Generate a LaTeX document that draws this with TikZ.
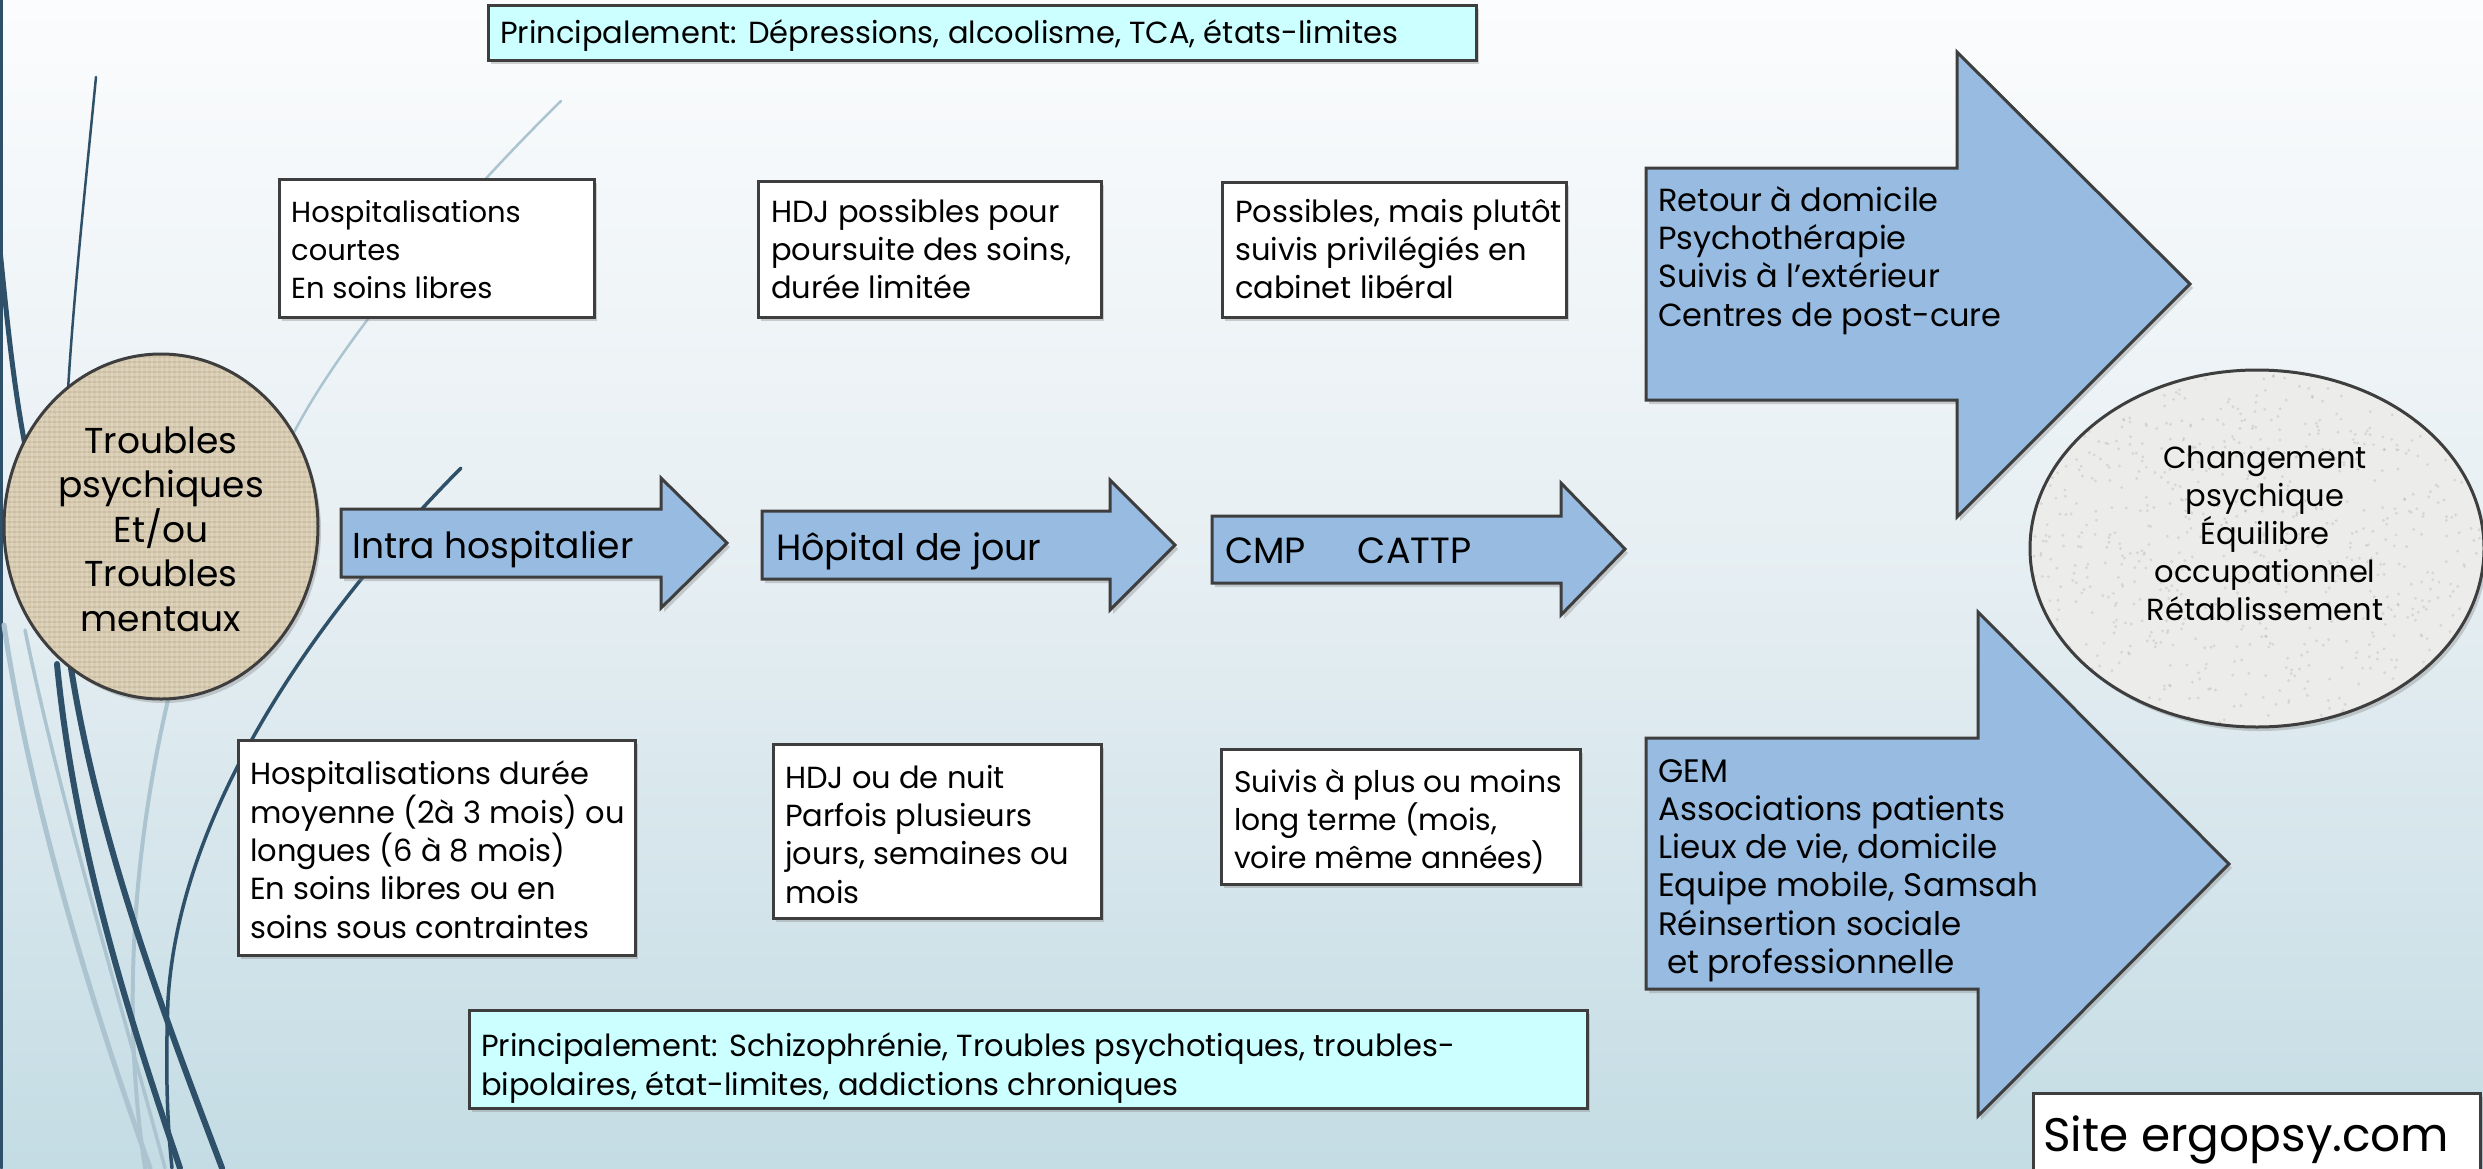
\documentclass[tikz,border=0pt]{standalone}
\usepackage{fontspec}
\setmainfont{Poppins}
\usetikzlibrary{shadows,shapes.geometric}
\definecolor{arrowfill}{RGB}{151,187,225}
\definecolor{cyanfill}{RGB}{204,255,255}
\definecolor{edgec}{RGB}{62,62,62}
\definecolor{navy}{RGB}{46,80,105}
\definecolor{lightline}{RGB}{172,196,208}
\definecolor{burlap}{RGB}{216,204,178}
\definecolor{granite}{RGB}{236,236,234}
\definecolor{bgtop}{RGB}{251,252,253}
\definecolor{bgmid}{RGB}{229,238,242}
\definecolor{bgbot}{RGB}{196,220,228}
\tikzset{
  shade/.style={drop shadow={shadow xshift=3pt, shadow yshift=-4pt, opacity=0.35}},
  panel/.style={draw=edgec, line width=3pt, shade, inner sep=0pt},
  wbox/.style={panel, fill=white, rectangle},
  cbox/.style={panel, fill=cyanfill, rectangle},
  flow/.style={draw=edgec, line width=3pt, fill=arrowfill, shade},
  txt/.style={anchor=base west, align=left, inner sep=0pt, font=\fontsize{30.5}{38.3}\selectfont},
  bigtxt/.style={anchor=base west, inner sep=0pt, font=\fontsize{36.5}{42}\selectfont},
  ctxt/.style={anchor=base, align=center, inner sep=0pt},
  swoosh/.style={navy, line cap=round},
  lswoosh/.style={lightline, line cap=round}
}
\begin{document}
\begin{tikzpicture}[x=1pt,y=-1pt]
\useasboundingbox (0,0) rectangle (2483,1168);
\fill[top color=bgtop, bottom color=bgbot, middle color=bgmid] (0,0) rectangle (2483,1168);

% decorative swooshes
\draw[swoosh, line width=3pt] (1.5,0) -- (1.5,1168);
\draw[lswoosh, line width=5pt] (4,625) .. controls (30,800) and (90,1000) .. (150,1168);
\draw[lswoosh, line width=3.5pt] (25,630) .. controls (60,800) and (120,1000) .. (165,1168);
\draw[lswoosh, line width=4pt] (168,700) .. controls (140,820) and (118,990) .. (145,1168);
\draw[lswoosh, line width=2.5pt] (561,101) .. controls (460,200) and (340,340) .. (290,440);
\draw[swoosh, line width=5pt] (0,250) .. controls (8,330) and (15,400) .. (30,470);
\draw[swoosh, line width=2.5pt] (96,77) .. controls (84,200) and (70,330) .. (66,430);
\draw[swoosh, line width=6pt] (57,664) .. controls (75,850) and (130,1020) .. (180,1168);
\draw[swoosh, line width=6pt] (71,668) .. controls (100,850) and (170,1030) .. (222,1168);
\draw[swoosh, line width=3.5pt] (461,468) .. controls (330,600) and (180,800) .. (168,1000) .. controls (165,1080) and (168,1130) .. (172,1168);

% top and bottom cyan boxes
\node[cbox, minimum width=988pt, minimum height=55pt] (topc) at (982,32.5) {};
\node[txt] (topct) at (500,43) {Principalement: Dépressions, alcoolisme, TCA, états-limites};
\node[cbox, minimum width=1118pt, minimum height=98pt] (botc) at (1028,1059) {};
\node[txt] (botct) at (481,1095) {Principalement: Schizophrénie, Troubles psychotiques, troubles-\\bipolaires, état-limites, addictions chroniques};

% upper white boxes (base anchor = last line)
\node[wbox, minimum width=315pt, minimum height=138pt] (b1) at (436.5,248) {};
\node[txt, font=\fontsize{29}{38.3}\selectfont] (b1t) at (291,298.6) {Hospitalisations\\courtes\\En soins libres};
\node[wbox, minimum width=343pt, minimum height=136pt] (b2) at (929.5,249) {};
\node[txt] (b2t) at (771,298.6) {HDJ possibles pour\\poursuite des soins,\\durée limitée};
\node[wbox, minimum width=344pt, minimum height=135pt] (b3) at (1394,249.5) {};
\node[txt] (b3t) at (1235,298.6) {Possibles, mais plutôt\\suivis privilégiés en\\cabinet libéral};

% lower white boxes
\node[wbox, minimum width=397pt, minimum height=215pt] (b4) at (436.5,847.5) {};
\node[txt] (b4t) at (250,938) {Hospitalisations durée\\moyenne (2à 3 mois) ou\\longues (6 à 8 mois)\\En soins libres ou en\\soins sous contraintes};
\node[wbox, minimum width=328pt, minimum height=174pt] (b5) at (937,831) {};
\node[txt] (b5t) at (785,903) {HDJ ou de nuit\\Parfois plusieurs\\jours, semaines ou\\mois};
\node[wbox, minimum width=359pt, minimum height=135pt] (b6) at (1400.5,816.5) {};
\node[txt, font=\fontsize{29.8}{38.3}\selectfont] (b6t) at (1234,868.6) {Suivis à plus ou moins\\long terme (mois,\\voire même années)};

% flow arrows
\path[flow] (341,509) -- (661,509) -- (661,478) -- (727,543) -- (661,608) -- (661,577) -- (341,577) -- cycle;
\node[bigtxt, font=\fontsize{36}{42}\selectfont] (a1t) at (352,558) {Intra hospitalier};
\path[flow] (762,511) -- (1110,511) -- (1110,480) -- (1175,545) -- (1110,610) -- (1110,579) -- (762,579) -- cycle;
\node[bigtxt] (a2t) at (776,560) {Hôpital de jour};
\path[flow] (1212,516) -- (1561,516) -- (1561,483) -- (1625,549) -- (1561,615) -- (1561,583) -- (1212,583) -- cycle;
\node[bigtxt] (a3t) at (1225,563) {CMP\hspace*{52pt}CATTP};

% big arrows
\path[flow] (1646,168) -- (1957,168) -- (1957,52) -- (2190,284) -- (1957,517) -- (1957,400) -- (1646,400) -- cycle;
\node[txt, font=\fontsize{32}{38.3}\selectfont] (a4t) at (1658,326) {Retour à domicile\\Psychothérapie\\Suivis à l’extérieur\\Centres de post-cure};
\path[flow] (1646,738) -- (1978,738) -- (1978,612) -- (2229,864) -- (1978,1116) -- (1978,989) -- (1646,989) -- cycle;
\node[txt, font=\fontsize{32.5}{38.3}\selectfont] (a5t) at (1658,973.5) {GEM\\Associations patients\\Lieux de vie, domicile\\Equipe mobile, Samsah\\Réinsertion sociale\\\hspace*{9pt}et professionnelle};

% source ellipse (burlap)
\node[ellipse, fill=burlap, shade, minimum width=314pt, minimum height=345pt, inner sep=0pt] (src) at (161,526.5) {};
\begin{scope}
  \clip (src.center) ellipse [x radius=157pt, y radius=172.5pt];
  \foreach \k in {0,5,...,350} {\draw[brown!55!black, opacity=.10, line width=1.6pt] (0,352+\k) -- (322,352+\k);}
  \foreach \k in {0,5,...,320} {\draw[white, opacity=.16, line width=1.6pt] (2+\k,350) -- (2+\k,702);}
\end{scope}
\draw[edgec, line width=3pt] (src.center) ellipse [x radius=157pt, y radius=172.5pt];
\node[ctxt, font=\fontsize{36}{44.4}\selectfont] (srct) at (161,631) {Troubles\\psychiques\\Et/ou\\Troubles\\mentaux};

% outcome ellipse (granite)
\node[ellipse, fill=granite, shade, minimum width=454pt, minimum height=357pt, inner sep=0pt] (goal) at (2257,548.5) {};
\begin{scope}
  \clip (goal.center) ellipse [x radius=227pt, y radius=178.5pt];
  \pgfmathsetseed{11}
  \foreach \i in {1,...,900} {
    \pgfmathsetmacro\gx{2030+455*rnd}
    \pgfmathsetmacro\gy{370+357*rnd}
    \fill[black!45, opacity=.22] (\gx,\gy) circle [radius=1.6pt];
  }
\end{scope}
\draw[edgec, line width=3pt] (goal.center) ellipse [x radius=227pt, y radius=178.5pt];
\node[ctxt, font=\fontsize{30.5}{38}\selectfont] (goalt) at (2265,620) {Changement\\psychique\\Équilibre\\occupationnel\\Rétablissement};

% site box
\node[wbox, minimum width=447pt, minimum height=92pt] (site) at (2256.5,1139) {};
\node[anchor=base west, inner sep=0pt, font=\fontsize{47}{50}\selectfont] (sitet) at (2043,1151) {Site ergopsy.com};
\end{tikzpicture}
\end{document}
